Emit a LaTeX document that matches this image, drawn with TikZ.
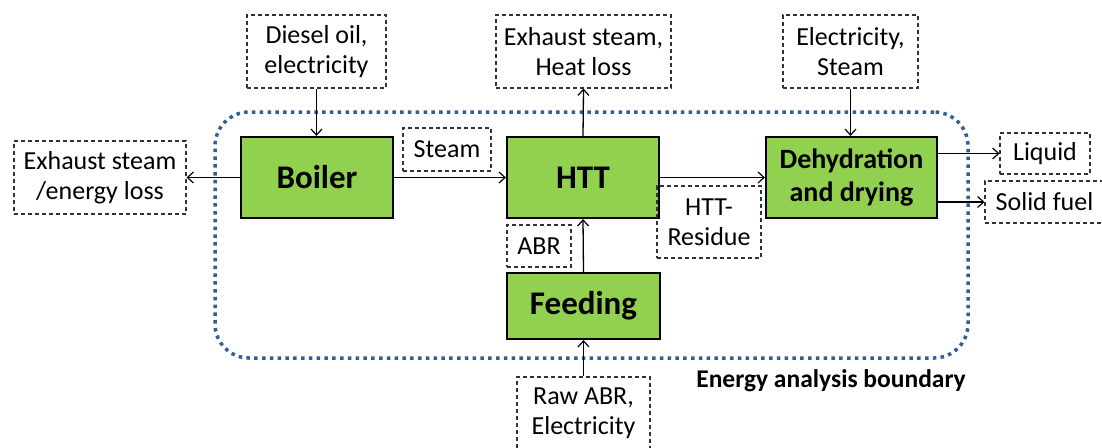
\documentclass[tikz,border=0pt]{standalone}
\usepackage{fontspec}
\setmainfont{Carlito}
\usetikzlibrary{arrows.meta}
\definecolor{procgreen}{RGB}{146,208,80}
\definecolor{bndblue}{RGB}{52,94,145}
\definecolor{dashgray}{RGB}{50,50,50}
\tikzset{
  proc/.style={draw=black, line width=2.2pt, fill=procgreen, inner sep=0pt, align=center,
    font=\fontsize{33}{36}\selectfont\bfseries},
  flowbox/.style={draw=dashgray, line width=1.1pt, dash pattern=on 4pt off 3pt, inner sep=0pt,
    align=center, font=\fontsize{26}{30}\selectfont},
  arr/.style={draw=black, line width=1.3pt, -{Straight Barb[length=6pt,width=11pt,line width=1.2pt]}},
  boundary/.style={draw=bndblue, line width=3.5pt, dash pattern=on 3.5pt off 4.3pt, rounded corners=34pt}
}
\begin{document}
\begin{tikzpicture}[x=1pt,y=-1pt]
\useasboundingbox (0,0) rectangle (1102,447);

% system boundary
\node[boundary, minimum width=753pt, minimum height=246pt, inner sep=0pt] (bnd) at (591.5,235) {};
\node[font=\fontsize{25.5}{28}\selectfont\bfseries, anchor=center] (bndlabel) at (831,381) {Energy analysis boundary};

% process units
\node[proc, minimum width=152pt, minimum height=81pt] (boiler) at (317,177.5) {Boiler};
\node[proc, minimum width=152pt, minimum height=81pt] (htt) at (583,177.5) {HTT};
\node[proc, minimum width=171pt, minimum height=81pt, font=\fontsize{28}{33}\selectfont\bfseries] (dehyd) at (851.5,177.5) {Dehydration\\and drying};
\node[proc, minimum width=153pt, minimum height=66pt] (feed) at (583.5,306) {Feeding};

% flows in and out
\node[flowbox, minimum width=139pt, minimum height=73pt] (diesel) at (316.5,51.5) {Diesel oil,\\electricity};
\node[flowbox, minimum width=172pt, minimum height=73pt] (exhleft) at (100,177.5) {Exhaust steam\\/energy loss};
\node[flowbox, minimum width=175pt, minimum height=73pt] (exhtop) at (583.5,51.5) {Exhaust steam,\\Heat loss};
\node[flowbox, minimum width=135pt, minimum height=73pt] (elec) at (850.5,51.5) {Electricity,\\Steam};
\node[flowbox, minimum width=88pt, minimum height=43pt] (steam) at (447,149.5) {Steam};
\node[flowbox, minimum width=90pt, minimum height=41pt] (liquid) at (1045,153.5) {Liquid};
\node[flowbox, minimum width=119pt, minimum height=42pt] (solid) at (1044.5,202) {Solid fuel};
\node[flowbox, minimum width=64pt, minimum height=42pt] (abr) at (539,246) {ABR};
\node[flowbox, minimum width=104pt, minimum height=72pt] (resid) at (709,222) {HTT-\\Residue};
\node[flowbox, minimum width=133pt, minimum height=73pt] (raw) at (583.5,413.5) {Raw ABR,\\Electricity};

% connectors
\draw[arr] (diesel.south) -- (diesel.south |- boiler.north);
\draw[arr] (boiler.west) -- (exhleft.east);
\draw[arr] (boiler.east) -- (htt.west);
\draw[arr] (htt.north) -- (exhtop.south);
\draw[arr] (htt.east) -- (dehyd.west);
\draw[arr] (elec.south) -- (elec.south |- dehyd.north);
\draw[arr] (dehyd.east |- liquid.west) -- (liquid.west);
\draw[arr] (dehyd.east |- solid.west) -- (solid.west);
\draw[arr] (feed.north) -- (htt.south);
\draw[arr] (raw.north) -- (feed.south);
\end{tikzpicture}
\end{document}
